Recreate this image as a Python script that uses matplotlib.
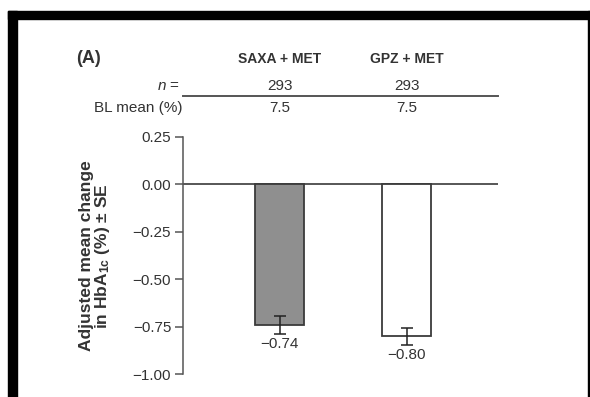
import matplotlib
matplotlib.use("Agg")
import matplotlib.pyplot as plt
from matplotlib.patches import Rectangle
import matplotlib.transforms as mtransforms

plt.rcParams['font.family'] = ['Liberation Sans', 'DejaVu Sans']
plt.rcParams['mathtext.fontset'] = 'custom'
plt.rcParams['mathtext.rm'] = 'Liberation Sans'
plt.rcParams['mathtext.it'] = 'Liberation Sans:italic'
plt.rcParams['mathtext.bf'] = 'Liberation Sans:bold'

# data
groups = ['SAXA + MET', 'GPZ + MET']
n_values = ['293', '293']
bl_means = ['7.5', '7.5']
changes = [-0.74, -0.80]
se = [0.047, 0.045]
bar_colors = ['#8f8f8f', 'white']
yticks = [0.25, 0.00, -0.25, -0.50, -0.75, -1.00]

W, H = 590, 397
fig = plt.figure(figsize=(W / 100, H / 100), dpi=100)
ax = fig.add_axes([183 / W, 1 - 374 / H, (498 - 183) / W, (374 - 137) / H])

txt = '#333333'
edge = '#3a3a3a'
x = [0, 1]
ax.bar(x, changes, width=0.386, color=bar_colors, edgecolor=edge, linewidth=1.3, zorder=2)
ax.errorbar(x, changes, yerr=se, fmt='none', ecolor='#222222', elinewidth=1.1,
            capsize=4, capthick=1.1, zorder=3)
ax.axhline(0, color=edge, linewidth=1.2, zorder=1)

for xi, v in zip(x, changes):
    ax.text(xi, v - 0.065, f'\u2212{abs(v):.2f}', ha='center', va='top',
            fontsize=11, color=txt)

ax.set_xlim(-0.76, 1.72)
ax.set_ylim(-1.0, 0.25)
ax.set_xticks([])
ax.set_yticks(yticks)
ax.set_yticklabels([f'{t:.2f}'.replace('-', '\u2212') for t in yticks], fontsize=11, color=txt)
ax.tick_params(axis='y', direction='out', length=5.5, width=1.1, color='#555555', pad=3)
for s in ['top', 'right', 'bottom']:
    ax.spines[s].set_visible(False)
ax.spines['left'].set_color('#555555')
ax.spines['left'].set_linewidth(1.1)


def ay(py):
    return (374 - py) / (374 - 137)


ax.text(-0.278, ay(256), 'Adjusted mean change\nin HbA$_{\\mathbf{1c}}$ (%) \u00b1 SE',
        transform=ax.transAxes, rotation=90, ha='center', va='center', fontsize=12.5,
        fontweight='bold', color=txt, linespacing=0.95)

# header table above the plot
trans = mtransforms.blended_transform_factory(ax.transData, ax.transAxes)
for xi, g, nv, bl in zip(x, groups, n_values, bl_means):
    ax.text(xi, ay(59), g, transform=trans, ha='center', va='center',
            fontsize=10, fontweight='bold', color=txt)
    ax.text(xi, ay(86), nv, transform=trans, ha='center', va='center', fontsize=11, color=txt)
    ax.text(xi, ay(108), bl, transform=trans, ha='center', va='center', fontsize=11, color=txt)

ax.text(-0.34, ay(59), '(A)', transform=ax.transAxes, ha='left', va='center',
        fontsize=13, fontweight='bold', color=txt)
ax.text(-0.01, ay(86), '$n$ =', transform=ax.transAxes, ha='right', va='center',
        fontsize=11, color=txt)
ax.text(0.0, ay(108), 'BL mean (%)', transform=ax.transAxes, ha='right', va='center',
        fontsize=11, color=txt)
ax.plot([0, 1], [ay(96), ay(96)], transform=ax.transAxes, color='#555555',
        linewidth=1.4, clip_on=False)

# black frame around the panel
for (x0, y0, w, h) in [(8, 11, 582, 8), (8, 11, 9, 386), (588, 11, 2, 386)]:
    fig.patches.append(Rectangle((x0 / W, 1 - (y0 + h) / H), w / W, h / H,
                                 transform=fig.transFigure, color='black', zorder=10))

fig.savefig('out.png', dpi=100)
